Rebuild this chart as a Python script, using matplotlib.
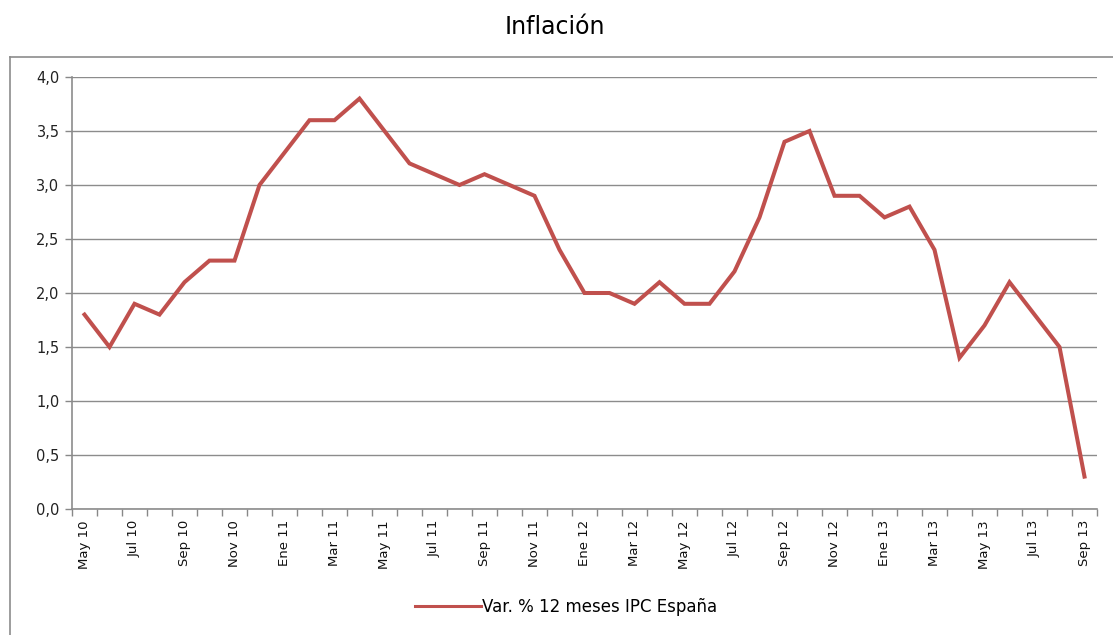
import numpy as np
import matplotlib.pyplot as plt
from matplotlib.lines import Line2D

# Monthly series, May 2010 .. Sep 2013
months = ['May', 'Jun', 'Jul', 'Ago', 'Sep', 'Oct', 'Nov', 'Dic', 'Ene', 'Feb', 'Mar', 'Abr']
start_year = 10
n_points = 41
labels = []
for i in range(n_points):
    m = months[i % 12]
    yr = start_year + (i + 4) // 12
    labels.append(f'{m} {yr}')

ipc = [1.8, 1.5, 1.9, 1.8, 2.1, 2.3, 2.3, 3.0, 3.3, 3.6, 3.6, 3.8,
       3.5, 3.2, 3.1, 3.0, 3.1, 3.0, 2.9, 2.4, 2.0, 2.0, 1.9, 2.1,
       1.9, 1.9, 2.2, 2.7, 3.4, 3.5, 2.9, 2.9, 2.7, 2.8, 2.4, 1.4,
       1.7, 2.1, 1.8, 1.5, 0.3]

y_ticks = [0.0, 0.5, 1.0, 1.5, 2.0, 2.5, 3.0, 3.5, 4.0]

W, H = 1113, 635
fig = plt.figure(figsize=(W / 100, H / 100), dpi=100)
ax = fig.add_axes([72 / W, 1 - 509 / H, (1097 - 72) / W, (509 - 77) / H])

red = '#C0504D'
x = np.arange(len(ipc))
ax.plot(x, ipc, color=red, linewidth=2.9, solid_joinstyle='miter', zorder=3)

ax.set_xlim(-0.5, len(ipc) - 0.5)
ax.set_ylim(0, 4.0)
ax.set_yticks(y_ticks)
ax.set_yticklabels([f'{v:.1f}'.replace('.', ',') for v in y_ticks],
                   fontsize=10.5, color='#222222')

ax.set_xticks(x[::2])
ax.set_xticklabels(labels[::2], rotation=90, fontsize=9.5, color='#111111')
ax.set_xticks(np.arange(len(ipc) + 1) - 0.5, minor=True)
ax.tick_params(axis='x', which='major', length=0, pad=8)
ax.tick_params(axis='x', which='minor', length=5, color='#888888', width=1)
ax.tick_params(axis='y', length=5, color='#888888', width=1, pad=4)

ax.grid(True, axis='y', color='#8c8c8c', linewidth=1)
ax.set_axisbelow(True)
for s in ['top', 'right']:
    ax.spines[s].set_visible(False)
for s in ['left', 'bottom']:
    ax.spines[s].set_color('#8c8c8c')
    ax.spines[s].set_linewidth(1.2)

# chart-area frame
fig.add_artist(Line2D([10 / W, 10 / W], [0, 1 - 57 / H], color='#8c8c8c', linewidth=1.2))
fig.add_artist(Line2D([10 / W, 1], [1 - 57 / H, 1 - 57 / H], color='#8c8c8c', linewidth=1.2))

fig.text(555 / W, 1 - 27 / H, 'Inflación', ha='center', va='center', fontsize=17,
         family=['Liberation Sans Narrow', 'DejaVu Sans'])

handle = Line2D([], [], color=red, linewidth=2.2)
fig.legend([handle], ['Var. % 12 meses IPC España'], loc='center',
           bbox_to_anchor=(566 / W, 1 - 607 / H), frameon=False,
           fontsize=12, handlelength=4, handletextpad=0.05)

fig.savefig('out.png', dpi=100)
